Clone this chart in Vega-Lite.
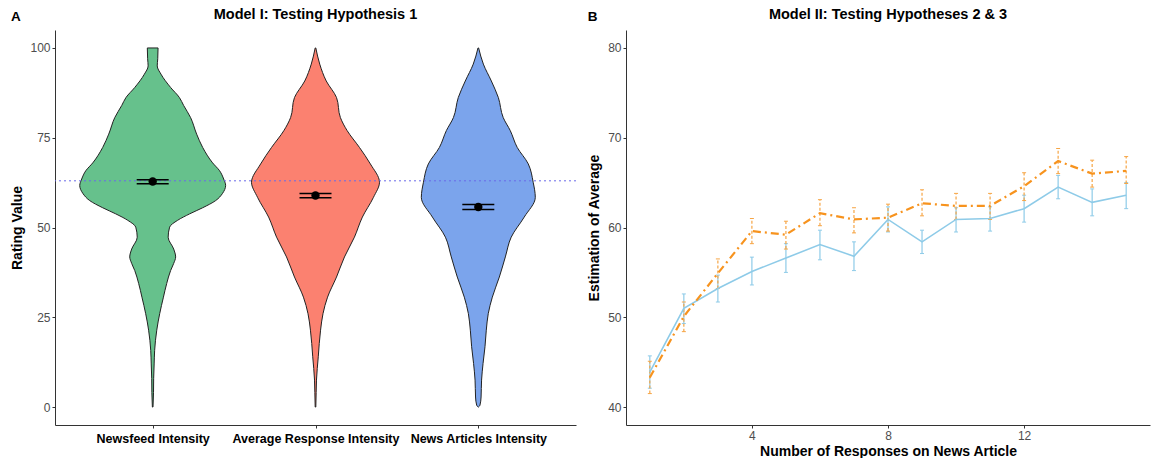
{
  "$schema": "https://vega.github.io/schema/vega-lite/v6.json",
  "background": "white",
  "padding": {"left": 10, "top": 6, "right": 3, "bottom": 0},
  "spacing": 10,
  "config": {
    "font": "Liberation Sans",
    "view": {"stroke": null},
    "axis": {
      "grid": false,
      "domainColor": "#333333",
      "domainWidth": 1,
      "tickColor": "#333333",
      "tickSize": 3,
      "labelColor": "#4D4D4D",
      "labelFontSize": 12,
      "labelPadding": 2,
      "titleFontSize": 14,
      "titleFontWeight": "bold",
      "titleColor": "black"
    },
    "title": {"fontSize": 14.5, "fontWeight": "bold", "color": "black"}
  },
  "datasets": {
    "violin": [
      {"group": "Newsfeed Intensity", "rating": 0, "left": 0.998, "right": 1.002},
      {"group": "Newsfeed Intensity", "rating": 4, "left": 0.995, "right": 1.005},
      {"group": "Newsfeed Intensity", "rating": 8, "left": 0.994, "right": 1.006},
      {"group": "Newsfeed Intensity", "rating": 12, "left": 0.991, "right": 1.009},
      {"group": "Newsfeed Intensity", "rating": 15.8, "left": 0.988, "right": 1.012},
      {"group": "Newsfeed Intensity", "rating": 21.4, "left": 0.975, "right": 1.025},
      {"group": "Newsfeed Intensity", "rating": 26, "left": 0.957, "right": 1.043},
      {"group": "Newsfeed Intensity", "rating": 30.6, "left": 0.934, "right": 1.066},
      {"group": "Newsfeed Intensity", "rating": 34.4, "left": 0.914, "right": 1.086},
      {"group": "Newsfeed Intensity", "rating": 38, "left": 0.89, "right": 1.11},
      {"group": "Newsfeed Intensity", "rating": 40, "left": 0.871, "right": 1.129},
      {"group": "Newsfeed Intensity", "rating": 41.8, "left": 0.859, "right": 1.141},
      {"group": "Newsfeed Intensity", "rating": 44, "left": 0.871, "right": 1.129},
      {"group": "Newsfeed Intensity", "rating": 47.3, "left": 0.905, "right": 1.095},
      {"group": "Newsfeed Intensity", "rating": 50.1, "left": 0.896, "right": 1.104},
      {"group": "Newsfeed Intensity", "rating": 52, "left": 0.847, "right": 1.153},
      {"group": "Newsfeed Intensity", "rating": 53.8, "left": 0.773, "right": 1.227},
      {"group": "Newsfeed Intensity", "rating": 55.5, "left": 0.693, "right": 1.307},
      {"group": "Newsfeed Intensity", "rating": 57.5, "left": 0.613, "right": 1.387},
      {"group": "Newsfeed Intensity", "rating": 59.5, "left": 0.571, "right": 1.429},
      {"group": "Newsfeed Intensity", "rating": 61.7, "left": 0.552, "right": 1.448},
      {"group": "Newsfeed Intensity", "rating": 63.5, "left": 0.564, "right": 1.436},
      {"group": "Newsfeed Intensity", "rating": 65.8, "left": 0.589, "right": 1.411},
      {"group": "Newsfeed Intensity", "rating": 68, "left": 0.632, "right": 1.368},
      {"group": "Newsfeed Intensity", "rating": 72.3, "left": 0.693, "right": 1.307},
      {"group": "Newsfeed Intensity", "rating": 76, "left": 0.73, "right": 1.27},
      {"group": "Newsfeed Intensity", "rating": 80.6, "left": 0.767, "right": 1.233},
      {"group": "Newsfeed Intensity", "rating": 84, "left": 0.81, "right": 1.19},
      {"group": "Newsfeed Intensity", "rating": 86.2, "left": 0.836, "right": 1.164},
      {"group": "Newsfeed Intensity", "rating": 89, "left": 0.89, "right": 1.11},
      {"group": "Newsfeed Intensity", "rating": 92.7, "left": 0.949, "right": 1.051},
      {"group": "Newsfeed Intensity", "rating": 95, "left": 0.972, "right": 1.028},
      {"group": "Newsfeed Intensity", "rating": 97, "left": 0.969, "right": 1.031},
      {"group": "Newsfeed Intensity", "rating": 100, "left": 0.967, "right": 1.033},
      {"group": "Average Response Intensity", "rating": 0, "left": 1.998, "right": 2.002},
      {"group": "Average Response Intensity", "rating": 4, "left": 1.996, "right": 2.004},
      {"group": "Average Response Intensity", "rating": 7.5, "left": 1.994, "right": 2.006},
      {"group": "Average Response Intensity", "rating": 14, "left": 1.983, "right": 2.017},
      {"group": "Average Response Intensity", "rating": 21.4, "left": 1.969, "right": 2.031},
      {"group": "Average Response Intensity", "rating": 26, "left": 1.954, "right": 2.046},
      {"group": "Average Response Intensity", "rating": 30.6, "left": 1.926, "right": 2.074},
      {"group": "Average Response Intensity", "rating": 36.2, "left": 1.871, "right": 2.129},
      {"group": "Average Response Intensity", "rating": 41.8, "left": 1.822, "right": 2.178},
      {"group": "Average Response Intensity", "rating": 47.3, "left": 1.761, "right": 2.239},
      {"group": "Average Response Intensity", "rating": 52.9, "left": 1.712, "right": 2.288},
      {"group": "Average Response Intensity", "rating": 58.4, "left": 1.644, "right": 2.356},
      {"group": "Average Response Intensity", "rating": 62.6, "left": 1.607, "right": 2.393},
      {"group": "Average Response Intensity", "rating": 67.7, "left": 1.663, "right": 2.337},
      {"group": "Average Response Intensity", "rating": 72.3, "left": 1.73, "right": 2.27},
      {"group": "Average Response Intensity", "rating": 77, "left": 1.806, "right": 2.194},
      {"group": "Average Response Intensity", "rating": 80.6, "left": 1.847, "right": 2.153},
      {"group": "Average Response Intensity", "rating": 86.2, "left": 1.871, "right": 2.129},
      {"group": "Average Response Intensity", "rating": 90.8, "left": 1.934, "right": 2.066},
      {"group": "Average Response Intensity", "rating": 95.5, "left": 1.974, "right": 2.026},
      {"group": "Average Response Intensity", "rating": 100, "left": 1.998, "right": 2.002},
      {"group": "News Articles Intensity", "rating": 0, "left": 2.999, "right": 3.001},
      {"group": "News Articles Intensity", "rating": 0.5, "left": 2.99, "right": 3.01},
      {"group": "News Articles Intensity", "rating": 2.8, "left": 2.983, "right": 3.017},
      {"group": "News Articles Intensity", "rating": 7.5, "left": 2.98, "right": 3.02},
      {"group": "News Articles Intensity", "rating": 12.1, "left": 2.971, "right": 3.029},
      {"group": "News Articles Intensity", "rating": 16.8, "left": 2.959, "right": 3.041},
      {"group": "News Articles Intensity", "rating": 21.4, "left": 2.951, "right": 3.049},
      {"group": "News Articles Intensity", "rating": 26, "left": 2.939, "right": 3.061},
      {"group": "News Articles Intensity", "rating": 30.6, "left": 2.914, "right": 3.086},
      {"group": "News Articles Intensity", "rating": 36.2, "left": 2.871, "right": 3.129},
      {"group": "News Articles Intensity", "rating": 41.8, "left": 2.834, "right": 3.166},
      {"group": "News Articles Intensity", "rating": 47.3, "left": 2.798, "right": 3.202},
      {"group": "News Articles Intensity", "rating": 52.9, "left": 2.718, "right": 3.282},
      {"group": "News Articles Intensity", "rating": 58.4, "left": 2.65, "right": 3.35},
      {"group": "News Articles Intensity", "rating": 62.6, "left": 2.663, "right": 3.337},
      {"group": "News Articles Intensity", "rating": 67.7, "left": 2.693, "right": 3.307},
      {"group": "News Articles Intensity", "rating": 72.3, "left": 2.761, "right": 3.239},
      {"group": "News Articles Intensity", "rating": 77, "left": 2.804, "right": 3.196},
      {"group": "News Articles Intensity", "rating": 80.6, "left": 2.847, "right": 3.153},
      {"group": "News Articles Intensity", "rating": 86.2, "left": 2.877, "right": 3.123},
      {"group": "News Articles Intensity", "rating": 90.8, "left": 2.92, "right": 3.08},
      {"group": "News Articles Intensity", "rating": 95.5, "left": 2.969, "right": 3.031},
      {"group": "News Articles Intensity", "rating": 100, "left": 2.998, "right": 3.002}
    ],
    "means": [
      {"group": "Newsfeed Intensity", "pos": 1, "mean": 62.8, "lower": 62.2, "upper": 63.3},
      {"group": "Average Response Intensity", "pos": 2, "mean": 58.9, "lower": 58.3, "upper": 59.5},
      {"group": "News Articles Intensity", "pos": 3, "mean": 55.7, "lower": 55.0, "upper": 56.4}
    ],
    "ref": [{"rating": 63}],
    "trend": [
      {"n": 1, "series": "H2", "mean": 43.9, "lower": 42.1, "upper": 45.7},
      {"n": 2, "series": "H2", "mean": 51.0, "lower": 49.3, "upper": 52.6},
      {"n": 3, "series": "H2", "mean": 53.2, "lower": 51.7, "upper": 54.7},
      {"n": 4, "series": "H2", "mean": 55.1, "lower": 53.6, "upper": 56.7},
      {"n": 5, "series": "H2", "mean": 56.6, "lower": 55.0, "upper": 58.2},
      {"n": 6, "series": "H2", "mean": 58.1, "lower": 56.4, "upper": 59.7},
      {"n": 7, "series": "H2", "mean": 56.8, "lower": 55.2, "upper": 58.4},
      {"n": 8, "series": "H2", "mean": 60.9, "lower": 59.5, "upper": 62.3},
      {"n": 9, "series": "H2", "mean": 58.4, "lower": 57.1, "upper": 59.7},
      {"n": 10, "series": "H2", "mean": 60.9, "lower": 59.5, "upper": 62.2},
      {"n": 11, "series": "H2", "mean": 61.0, "lower": 59.6, "upper": 62.3},
      {"n": 12, "series": "H2", "mean": 62.1, "lower": 60.6, "upper": 63.6},
      {"n": 13, "series": "H2", "mean": 64.5, "lower": 63.2, "upper": 65.8},
      {"n": 14, "series": "H2", "mean": 62.8, "lower": 61.3, "upper": 64.3},
      {"n": 15, "series": "H2", "mean": 63.6, "lower": 62.1, "upper": 65.0},
      {"n": 1, "series": "H3", "mean": 43.3, "lower": 41.5, "upper": 45.1},
      {"n": 2, "series": "H3", "mean": 50.1, "lower": 48.4, "upper": 51.7},
      {"n": 3, "series": "H3", "mean": 54.9, "lower": 53.2, "upper": 56.5},
      {"n": 4, "series": "H3", "mean": 59.6, "lower": 58.2, "upper": 61.0},
      {"n": 5, "series": "H3", "mean": 59.2, "lower": 57.6, "upper": 60.7},
      {"n": 6, "series": "H3", "mean": 61.6, "lower": 60.2, "upper": 63.1},
      {"n": 7, "series": "H3", "mean": 60.9, "lower": 59.4, "upper": 62.2},
      {"n": 8, "series": "H3", "mean": 61.1, "lower": 59.6, "upper": 62.6},
      {"n": 9, "series": "H3", "mean": 62.7, "lower": 61.3, "upper": 64.2},
      {"n": 10, "series": "H3", "mean": 62.4, "lower": 60.9, "upper": 63.8},
      {"n": 11, "series": "H3", "mean": 62.4, "lower": 60.9, "upper": 63.8},
      {"n": 12, "series": "H3", "mean": 64.6, "lower": 63.0, "upper": 66.1},
      {"n": 13, "series": "H3", "mean": 67.4, "lower": 66.0, "upper": 68.8},
      {"n": 14, "series": "H3", "mean": 66.0, "lower": 64.5, "upper": 67.5},
      {"n": 15, "series": "H3", "mean": 66.3, "lower": 64.9, "upper": 67.9}
    ]
  },
  "hconcat": [
    {
      "title": {"text": "A", "anchor": "start", "frame": "bounds", "offset": -17, "fontSize": 13.5},
      "hconcat": [
        {
          "width": 521,
          "height": 395,
          "title": {"text": "Model I: Testing Hypothesis 1", "anchor": "middle", "offset": 8},
          "layer": [
            {
              "data": {"name": "violin"},
              "mark": {"type": "area", "orient": "horizontal", "stroke": "#222222", "strokeWidth": 1, "fillOpacity": 1, "interpolate": "monotone"},
              "encoding": {
                "y": {"field": "rating", "type": "quantitative", "scale": {"domain": [-5, 105], "nice": false, "zero": false},
                      "axis": {"values": [0, 25, 50, 75, 100], "title": "Rating Value", "titlePadding": 5}},
                "x": {"field": "left", "type": "quantitative", "stack": null, "scale": {"domain": [0.4, 3.6], "nice": false, "zero": false},
                      "axis": {"values": [1, 2, 3], "title": null, "labelExpr": "datum.value == 1 ? 'Newsfeed Intensity' : datum.value == 2 ? 'Average Response Intensity' : 'News Articles Intensity'",
                               "labelFontWeight": "bold", "labelColor": "black", "labelFontSize": 12.5, "labelPadding": 4, "labelOverlap": false, "labelFlush": false, "labelBound": false}},
                "x2": {"field": "right"},
                "fill": {"field": "group", "type": "nominal",
                         "scale": {"domain": ["Newsfeed Intensity", "Average Response Intensity", "News Articles Intensity"], "range": ["#66C18C", "#FB8170", "#7BA4EC"]},
                         "legend": null},
                "detail": {"field": "group", "type": "nominal"}
              }
            },
            {
              "data": {"name": "ref"},
              "mark": {"type": "rule", "color": "#6A6AE8", "strokeDash": [2, 3], "strokeWidth": 1},
              "encoding": {"y": {"field": "rating", "type": "quantitative"}}
            },
            {
              "data": {"name": "means"},
              "mark": {"type": "rule", "color": "black", "strokeWidth": 1},
              "encoding": {"x": {"field": "pos", "type": "quantitative"}, "y": {"field": "lower", "type": "quantitative"}, "y2": {"field": "upper"}}
            },
            {
              "data": {"name": "means"},
              "mark": {"type": "tick", "orient": "horizontal", "size": 32, "thickness": 1.5, "color": "black", "opacity": 1},
              "encoding": {"x": {"field": "pos", "type": "quantitative"}, "y": {"field": "lower", "type": "quantitative"}}
            },
            {
              "data": {"name": "means"},
              "mark": {"type": "tick", "orient": "horizontal", "size": 32, "thickness": 1.5, "color": "black", "opacity": 1},
              "encoding": {"x": {"field": "pos", "type": "quantitative"}, "y": {"field": "upper", "type": "quantitative"}}
            },
            {
              "data": {"name": "means"},
              "mark": {"type": "point", "filled": true, "color": "black", "size": 70, "opacity": 1},
              "encoding": {"x": {"field": "pos", "type": "quantitative"}, "y": {"field": "mean", "type": "quantitative"}}
            }
          ]
        }
      ]
    },
    {
      "title": {"text": "B", "anchor": "start", "frame": "bounds", "offset": -17, "fontSize": 13.5},
      "hconcat": [
        {
          "width": 524,
          "height": 395,
          "title": {"text": "Model II: Testing Hypotheses 2 & 3", "anchor": "middle", "offset": 8},
          "data": {"name": "trend"},
          "encoding": {
            "x": {"field": "n", "type": "quantitative", "scale": {"domain": [0.3, 15.7], "nice": false, "zero": false},
                  "axis": {"values": [4, 8, 12], "title": "Number of Responses on News Article", "titlePadding": 3}},
            "y": {"field": "mean", "type": "quantitative", "scale": {"domain": [38, 82], "nice": false, "zero": false},
                  "axis": {"values": [40, 50, 60, 70, 80], "title": "Estimation of Average", "titlePadding": 6}}
          },
          "layer": [
            {
              "transform": [{"filter": "datum.series == 'H2'"}],
              "mark": {"type": "rule", "color": "#8ECBE8", "strokeWidth": 1.2},
              "encoding": {"y": {"field": "lower", "type": "quantitative"}, "y2": {"field": "upper"}}
            },
            {
              "transform": [{"filter": "datum.series == 'H2'"}],
              "mark": {"type": "tick", "orient": "horizontal", "size": 4, "thickness": 1, "color": "#8ECBE8", "opacity": 1},
              "encoding": {"y": {"field": "lower", "type": "quantitative"}}
            },
            {
              "transform": [{"filter": "datum.series == 'H2'"}],
              "mark": {"type": "tick", "orient": "horizontal", "size": 4, "thickness": 1, "color": "#8ECBE8", "opacity": 1},
              "encoding": {"y": {"field": "upper", "type": "quantitative"}}
            },
            {
              "transform": [{"filter": "datum.series == 'H3'"}],
              "mark": {"type": "rule", "color": "#F6A545", "strokeWidth": 1.2, "strokeDash": [3, 2]},
              "encoding": {"y": {"field": "lower", "type": "quantitative"}, "y2": {"field": "upper"}}
            },
            {
              "transform": [{"filter": "datum.series == 'H3'"}],
              "mark": {"type": "tick", "orient": "horizontal", "size": 4, "thickness": 1, "color": "#F6A545", "opacity": 1},
              "encoding": {"y": {"field": "lower", "type": "quantitative"}}
            },
            {
              "transform": [{"filter": "datum.series == 'H3'"}],
              "mark": {"type": "tick", "orient": "horizontal", "size": 4, "thickness": 1, "color": "#F6A545", "opacity": 1},
              "encoding": {"y": {"field": "upper", "type": "quantitative"}}
            },
            {
              "transform": [{"filter": "datum.series == 'H2'"}],
              "mark": {"type": "line", "color": "#8ECBE8", "strokeWidth": 1.6},
              "encoding": {}
            },
            {
              "transform": [{"filter": "datum.series == 'H3'"}],
              "mark": {"type": "line", "color": "#F7931E", "strokeWidth": 2.2, "strokeDash": [8, 4, 2, 4]},
              "encoding": {}
            }
          ]
        }
      ]
    }
  ]
}
